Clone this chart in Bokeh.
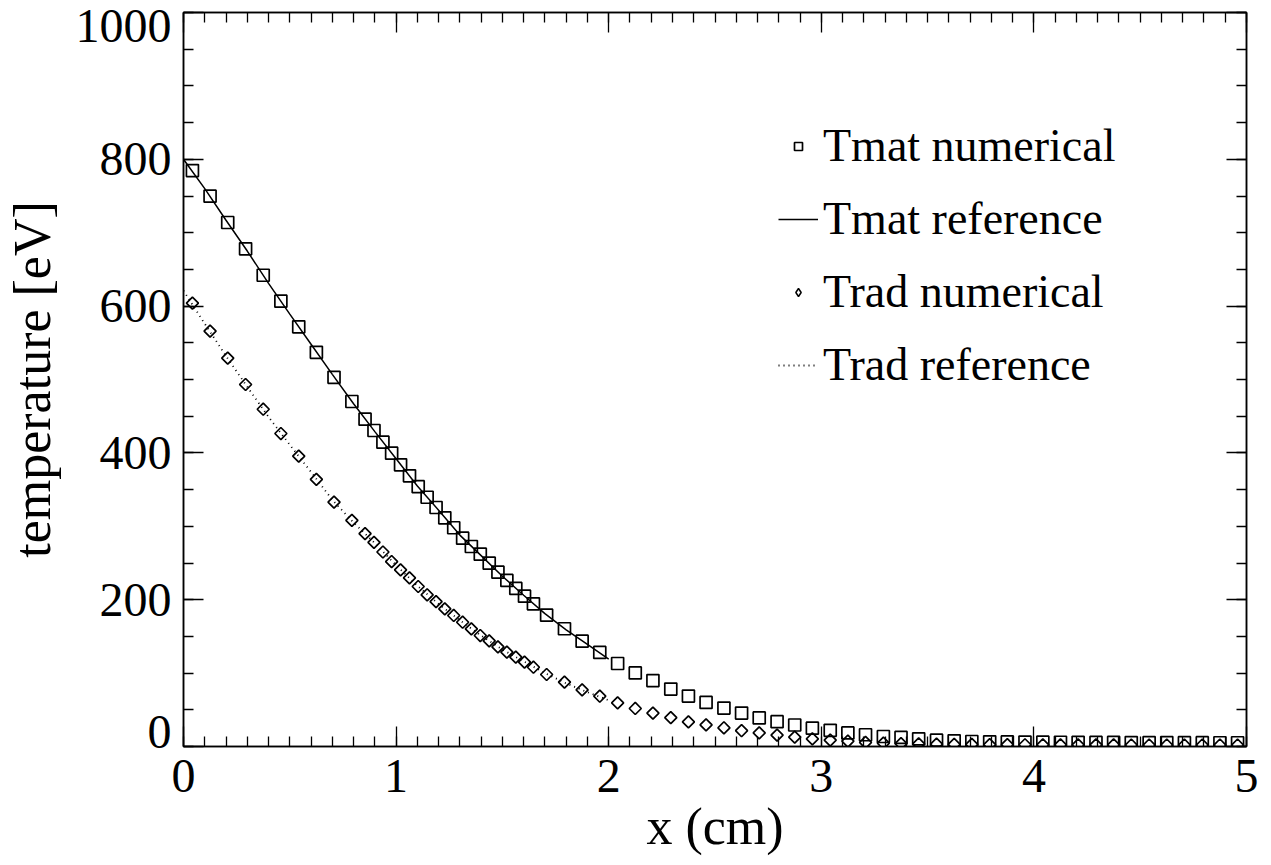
import math
from bokeh.plotting import figure
from bokeh.models import (Range1d, LinearAxis, Legend, LegendItem, FixedTicker,
                          SingleIntervalTicker, CustomJSTickFormatter)
from bokeh.embed import file_html
from bokeh.resources import INLINE

# ---------------- data ----------------
x_num = [0.042, 0.125, 0.208, 0.292, 0.375, 0.458, 0.542, 0.625, 0.708, 0.792,
         0.854, 0.896, 0.938, 0.979, 1.021, 1.063, 1.104, 1.146, 1.188, 1.229,
         1.271, 1.313, 1.354, 1.396, 1.438, 1.479, 1.521, 1.563, 1.604, 1.646,
         1.708, 1.792, 1.875, 1.958, 2.042, 2.125, 2.208, 2.292, 2.375, 2.458,
         2.542, 2.625, 2.708, 2.792, 2.875, 2.958, 3.042, 3.125, 3.208, 3.292,
         3.375, 3.458, 3.542, 3.625, 3.708, 3.792, 3.875, 3.958, 4.042, 4.125,
         4.208, 4.292, 4.375, 4.458, 4.542, 4.625, 4.708, 4.792, 4.875, 4.958]

tmat_num = [784.7, 749.7, 713.9, 678.0, 642.0, 606.7, 571.8, 537.0, 503.0, 470.0,
            446.0, 430.5, 414.6, 399.6, 383.8, 368.8, 354.0, 339.6, 325.6, 311.5,
            298.0, 283.8, 272.5, 262.0, 249.7, 237.5, 226.2, 215.3, 204.8, 194.4,
            178.9, 160.4, 143.5, 128.1, 113.1, 100.2, 89.8, 78.3, 68.7, 60.0,
            52.4, 45.6, 38.9, 33.8, 29.3, 25.0, 22.0, 18.5, 16.0, 13.6,
            12.3, 10.5, 8.6, 7.7, 6.8, 6.4, 6.2, 6.0, 5.9, 5.8,
            5.7, 5.6, 5.5, 5.4, 5.3, 5.3, 5.2, 5.2, 5.1, 5.1]

trad_num = [604.0, 565.8, 529.0, 493.2, 459.5, 426.4, 395.5, 364.0, 333.0, 308.0,
            290.0, 278.0, 265.0, 252.0, 240.7, 229.8, 218.0, 206.7, 197.5, 187.5,
            178.5, 169.3, 160.3, 151.2, 144.0, 135.8, 128.5, 121.7, 114.9, 108.0,
            98.1, 87.6, 77.2, 68.5, 59.5, 51.8, 45.4, 39.3, 33.6, 29.5,
            25.5, 21.5, 18.5, 15.6, 12.7, 10.5, 8.7, 7.2, 5.5, 4.5,
            4.0, 3.5, 3.2, 3.0, 2.8, 2.6, 2.5, 2.4, 2.3, 2.2,
            2.2, 2.1, 2.1, 2.0, 2.0, 2.0, 2.0, 2.0, 2.0, 2.0]

x_ref = [0.0, 0.1, 0.2, 0.3, 0.4, 0.5, 0.6, 0.7, 0.8, 0.9, 1.0,
         1.1, 1.2, 1.3, 1.4, 1.5, 1.6, 1.7, 1.8, 1.9, 2.0]
tmat_ref = [800, 760, 717, 675, 631, 589, 548, 507, 467, 429, 392,
            355, 322, 288, 260, 232, 206, 181, 159, 139, 119]
trad_ref = [621, 576, 532, 490, 449, 411, 374, 336, 305, 277, 247,
            219, 194, 172, 151, 132, 116, 100, 86, 74, 63]

y_tick_labels = ["0", "200", "400", "600", "800", "1000"]
series_names = ["Tmat numerical", "Tmat reference", "Trad numerical", "Trad reference"]
x_title = "x (cm)"
y_title = "temperature [eV]"

FONT = "Liberation Serif"
TICK_FS = "48px"
TITLE_FS = "52px"

p = figure(width=1266, height=862, output_backend="svg", toolbar_location=None,
           x_range=Range1d(0, 5), y_range=Range1d(0, 1000),
           min_border_left=182, min_border_right=20,
           min_border_top=12, min_border_bottom=116)
p.grid.visible = False
p.background_fill_color = "white"
p.border_fill_color = "white"
p.outline_line_color = "black"
p.outline_line_width = 1.5

def style_ticks(ax):
    ax.axis_line_color = "black"
    ax.axis_line_width = 1.5
    ax.major_tick_in = 20
    ax.major_tick_out = 0
    ax.minor_tick_in = 10
    ax.minor_tick_out = 0
    ax.major_tick_line_color = "black"
    ax.minor_tick_line_color = "black"
    ax.major_tick_line_width = 1.3
    ax.minor_tick_line_width = 1.3

def blank_labels(ax):
    ax.formatter = CustomJSTickFormatter(code="return ''")
    ax.major_label_text_font_size = "9px"
    ax.major_label_standoff = 0

def style_text(ax):
    ax.major_label_text_font = FONT
    ax.major_label_text_font_size = TICK_FS
    ax.major_label_text_color = "black"
    ax.axis_label_text_font = FONT
    ax.axis_label_text_font_size = TITLE_FS
    ax.axis_label_text_font_style = "normal"
    ax.axis_label_text_color = "black"

# x axis (bottom) with labels
p.xaxis.ticker = SingleIntervalTicker(interval=1, num_minor_ticks=10)
style_ticks(p.xaxis[0])
style_text(p.xaxis[0])
p.xaxis.axis_label = x_title
p.xaxis.major_label_standoff = 13
p.xaxis.axis_label_standoff = 3

# y axis (left): ticks only
p.yaxis.ticker = SingleIntervalTicker(interval=200, num_minor_ticks=4)
style_ticks(p.yaxis[0])
blank_labels(p.yaxis[0])

# y labels on a second left axis; the end labels sit slightly inside the
# frame, as in the reference
ylab = LinearAxis(ticker=FixedTicker(ticks=[20, 200, 400, 600, 800, 982]),
                  major_label_overrides={20: y_tick_labels[0], 200: y_tick_labels[1],
                                         400: y_tick_labels[2], 600: y_tick_labels[3],
                                         800: y_tick_labels[4], 982: y_tick_labels[5]})
style_text(ylab)
ylab.axis_line_color = None
ylab.major_tick_line_color = None
ylab.minor_tick_line_color = None
ylab.major_tick_in = 0
ylab.major_tick_out = 0
ylab.major_label_orientation = "horizontal"
ylab.major_label_standoff = 12
ylab.axis_label = y_title
ylab.axis_label_standoff = 12
p.add_layout(ylab, "left")

# mirrored ticks on top and right
top = LinearAxis(ticker=SingleIntervalTicker(interval=1, num_minor_ticks=10))
style_ticks(top)
blank_labels(top)
p.add_layout(top, "above")
right = LinearAxis(ticker=SingleIntervalTicker(interval=200, num_minor_ticks=4))
style_ticks(right)
blank_labels(right)
p.add_layout(right, "right")

r_line = p.line(x_ref, tmat_ref, line_color="black", line_width=1.5)
r_dot = p.line(x_ref, trad_ref, line_color="black", line_width=1.8, line_dash="1 4")
r_sq = p.scatter(x_num, tmat_num, marker="square", size=12, line_color="black",
                 line_width=1.7, fill_color=None)
r_dia = p.scatter(x_num, trad_num, marker="square", angle=math.pi / 4, size=8.5,
                  line_color="black", line_width=1.7, fill_color=None)
# legend stand-in for the diamond marker (legend glyphs ignore the angle)
r_dia_leg = p.scatter([float("nan")], [float("nan")], marker="diamond", size=12,
                      line_color="black", line_width=1.5, fill_color=None)

legend = Legend(items=[LegendItem(label=series_names[0], renderers=[r_sq]),
                       LegendItem(label=series_names[1], renderers=[r_line]),
                       LegendItem(label=series_names[2], renderers=[r_dia_leg]),
                       LegendItem(label=series_names[3], renderers=[r_dot])],
                location=(595, 355), orientation="vertical",
                label_text_font=FONT, label_text_font_size="46px",
                label_text_color="black", glyph_width=40, glyph_height=20,
                label_standoff=5, spacing=20, padding=0, margin=0,
                border_line_color=None, background_fill_alpha=0)
p.add_layout(legend)

open("out.html", "w").write(file_html(p, INLINE))
